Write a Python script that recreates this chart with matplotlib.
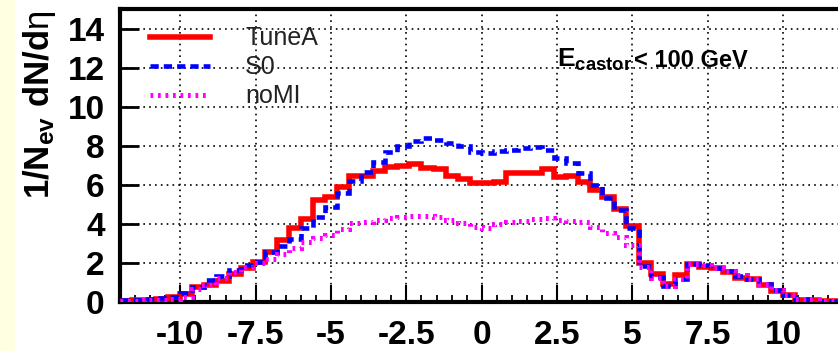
import numpy as np
import matplotlib
matplotlib.use("Agg")
import matplotlib.pyplot as plt
from matplotlib.patches import Rectangle

plt.rcParams['font.family'] = ['Liberation Sans', 'DejaVu Sans']
plt.rcParams['axes.unicode_minus'] = False
plt.rcParams['mathtext.fontset'] = 'custom'
plt.rcParams['mathtext.rm'] = 'Liberation Sans'
plt.rcParams['mathtext.it'] = 'Liberation Sans:italic'
plt.rcParams['mathtext.bf'] = 'Liberation Sans:bold'
plt.rcParams['mathtext.sf'] = 'Liberation Sans'

# ---- data ----
eta_edges = np.linspace(-12, 12, 61)  # 60 bins of width 0.4

tuneA = [0.05, 0.08, 0.10, 0.15, 0.27, 0.40, 0.78, 0.85, 1.10, 1.45,
         1.75, 2.05, 2.55, 3.15, 3.80, 4.25, 5.20, 5.40, 5.90, 6.45,
         6.45, 6.70, 6.90, 6.98, 7.05, 6.88, 6.82, 6.47, 6.28, 6.10,
         6.08, 6.16, 6.62, 6.62, 6.62, 6.79, 6.38, 6.45, 6.13, 5.73,
         5.39, 4.75, 3.89, 2.00, 1.45, 0.90, 1.40, 1.92, 1.80, 1.72,
         1.52, 1.25, 1.18, 0.87, 0.55, 0.35, 0.12, 0.08, 0.05, 0.05]

s0 = [0.10, 0.10, 0.15, 0.20, 0.27, 0.46, 0.78, 1.13, 1.33, 1.64,
      1.90, 2.06, 2.58, 2.85, 3.20, 3.80, 4.37, 4.87, 5.60, 6.20,
      6.67, 7.18, 7.70, 7.98, 8.26, 8.38, 8.30, 8.16, 7.99, 7.70,
      7.62, 7.73, 7.78, 7.87, 7.95, 7.78, 7.37, 7.10, 6.60, 6.00,
      5.32, 4.70, 3.80, 1.85, 1.28, 0.80, 1.20, 1.95, 1.90, 1.75,
      1.60, 1.35, 1.20, 0.90, 0.60, 0.35, 0.15, 0.10, 0.06, 0.05]

noMI = [0.05, 0.06, 0.08, 0.10, 0.15, 0.27, 0.65, 0.85, 1.25, 1.55,
        1.80, 2.00, 2.20, 2.45, 2.75, 3.05, 3.27, 3.45, 3.75, 4.04,
        4.10, 4.20, 4.30, 4.37, 4.40, 4.40, 4.34, 4.20, 4.06, 3.86,
        3.80, 4.00, 4.10, 4.15, 4.23, 4.28, 4.20, 4.15, 4.10, 3.86,
        3.53, 3.31, 2.92, 1.80, 1.25, 0.80, 1.20, 1.95, 1.88, 1.75,
        1.60, 1.40, 1.20, 0.90, 0.60, 0.35, 0.15, 0.10, 0.06, 0.05]

series_labels = ["TuneA", "S0", "noMI"]
xtick_vals = [-10, -7.5, -5, -2.5, 0, 2.5, 5, 7.5, 10]
xtick_labels = ["-10", "-7.5", "-5", "-2.5", "0", "2.5", "5", "7.5", "10"]
ytick_vals = [0, 2, 4, 6, 8, 10, 12, 14]
ytick_labels = ["0", "2", "4", "6", "8", "10", "12", "14"]

# ---- figure ----
W, H = 838, 351
fig = plt.figure(figsize=(W / 100, H / 100), dpi=100)
fig.patch.set_facecolor('white')
fig.patches.append(Rectangle((0, 0), 15 / W, 1, transform=fig.transFigure,
                             facecolor='#FFFFE1', edgecolor='none', zorder=0))

ax = fig.add_axes([120 / W, 49 / H, 723.5 / W, 293 / H])
ax.set_xlim(-12, 12)
ax.set_ylim(0, 15)

ax.stairs(tuneA, eta_edges, baseline=None, color='#FF0000', linewidth=4.0,
          label=series_labels[0], zorder=3)
ax.stairs(s0, eta_edges, baseline=None, color='#0000FF', linewidth=3.3,
          linestyle=(0, (1.8, 1.1)), label=series_labels[1], zorder=4)
ax.stairs(noMI, eta_edges, baseline=None, color='#FF00FF', linewidth=3.6,
          linestyle=(0, (0.55, 0.95)), label=series_labels[2], zorder=5)

ax.set_xticks(xtick_vals)
ax.set_xticklabels(xtick_labels, fontsize=24, fontweight='bold')
ax.set_xticks(np.arange(-12, 12.01, 0.5), minor=True)
ax.set_yticks(ytick_vals)
ax.set_yticklabels(ytick_labels, fontsize=24, fontweight='bold')

ax.tick_params(axis='x', which='major', direction='in', length=12, width=1.5,
               pad=13, top=False)
ax.tick_params(axis='x', which='minor', direction='in', length=5, width=1.3,
               top=False)
ax.tick_params(axis='y', which='major', direction='in', length=14, width=2,
               pad=11, right=False)

ax.grid(True, which='major', color='black', linestyle=(0, (1, 2.5)),
        linewidth=1.2)
ax.set_axisbelow(True)

for s in ['left', 'bottom', 'top']:
    ax.spines[s].set_linewidth(3)
ax.spines['right'].set_visible(False)

leg = ax.legend(loc='upper left', bbox_to_anchor=(0.028, 0.975), frameon=False,
                fontsize=18, handlelength=2.4, handletextpad=1.4,
                labelspacing=0.2, borderaxespad=0)
for t in leg.get_texts():
    t.set_color('#222222')

fig.text(557 / W, 1 - 67 / H, r"$\mathbf{E}_{\mathbf{castor}}$",
         fontsize=19, ha='left', va='baseline')
fig.text(634 / W, 1 - 67 / H, "< 100 GeV",
         fontsize=17, fontweight='bold', ha='left', va='baseline')

fig.text(40 / W, 1 - 105 / H,
         r"$\mathbf{1/N}_{\mathbf{ev}}\ \mathbf{dN/d}\mathrm{\eta}$",
         fontsize=25, rotation=90, ha='center', va='center')

fig.savefig("out.png", dpi=100)
